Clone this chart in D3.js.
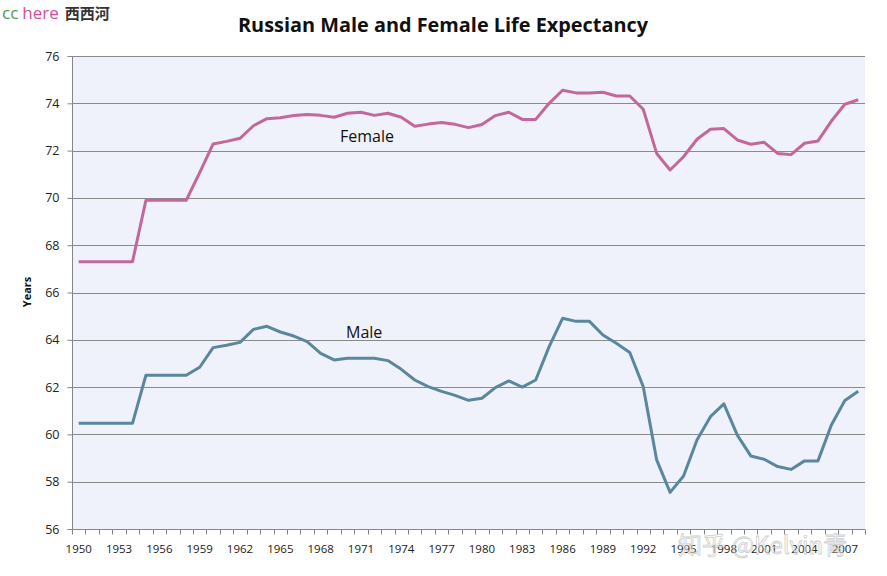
<!DOCTYPE html>
<html><head><meta charset="utf-8">
<script src="https://cdn.jsdelivr.net/npm/d3@7"></script>
<style>body{margin:0;background:#fff;}svg{display:block;}</style>
</head><body><svg id="c" width="887" height="576"></svg>
<script>
const years = d3.range(1950, 2009);
const female = [67.3,67.3,67.3,67.3,67.3,69.9,69.9,69.9,69.9,71.07,72.28,72.39,72.52,73.05,73.35,73.39,73.48,73.53,73.49,73.41,
73.58,73.62,73.49,73.58,73.41,73.03,73.12,73.19,73.11,72.97,73.1,73.48,73.62,73.32,73.32,74.0,74.55,74.44,74.44,74.47,
74.31,74.31,73.75,71.88,71.18,71.74,72.48,72.9,72.93,72.45,72.27,72.35,71.88,71.83,72.31,72.41,73.25,73.96,74.15];
const male = [60.47,60.47,60.47,60.47,60.47,62.5,62.5,62.5,62.5,62.84,63.67,63.77,63.89,64.44,64.57,64.33,64.16,63.92,63.43,63.15,
63.22,63.22,63.22,63.12,62.75,62.3,62.02,61.82,61.65,61.44,61.53,61.98,62.26,62.0,62.3,63.71,64.91,64.78,64.78,64.2,
63.85,63.46,62.02,58.92,57.55,58.24,59.76,60.75,61.29,59.97,59.09,58.95,58.64,58.52,58.88,58.88,60.4,61.43,61.82];
const yTicks = [56,58,60,62,64,66,68,70,72,74,76];
const xLabelYears = d3.range(1950, 2009, 3);
const title = "Russian Male and Female Life Expectancy";
const yTitle = "Years";
const seriesLabels = ["Female", "Male"];

const svg = d3.select("#c");
const L = 72, R = 865, T = 56, B = 529;
const x = d3.scaleBand().domain(years).range([L, R]);
const y = d3.scaleLinear().domain([56, 76]).range([B, T]);

svg.append("rect").attr("x", L).attr("y", T).attr("width", R - L).attr("height", B - T).attr("fill", "#EFF2FA");

// gridlines
svg.append("g").selectAll("line").data(yTicks.filter(d => d > 56)).join("line")
  .attr("x1", L).attr("x2", R).attr("y1", d => Math.round(y(d)) + 0.5).attr("y2", d => Math.round(y(d)) + 0.5)
  .attr("stroke", "#8a8a8a").attr("stroke-width", 1);

// y axis
const ya = svg.append("g").attr("transform", `translate(${L + 0.5},0)`)
  .call(d3.axisLeft(y).tickValues(yTicks).tickSize(5).tickPadding(8));
ya.select(".domain").attr("stroke", "#868686").attr("d", `M0,${T}V${B}`);
ya.selectAll(".tick line").attr("stroke", "#868686");
ya.selectAll("text").attr("font-family", "Open Sans, sans-serif").attr("font-size", 12.5).attr("fill", "#222");

// x axis
const xa = svg.append("g").attr("transform", `translate(0,${B + 0.5})`);
xa.append("line").attr("x1", L).attr("x2", R).attr("stroke", "#868686");
xa.selectAll("line.t").data(years.concat([2009])).join("line").attr("class", "t")
  .attr("x1", d => Math.round(d === 2009 ? R : x(d)) + 0.5).attr("x2", d => Math.round(d === 2009 ? R : x(d)) + 0.5)
  .attr("y1", 0).attr("y2", 5).attr("stroke", "#868686");
xa.selectAll("text").data(xLabelYears).join("text")
  .attr("x", d => x(d) + x.bandwidth() / 2).attr("y", 23).attr("text-anchor", "middle")
  .attr("font-family", "Open Sans, sans-serif").attr("font-size", 11.5).attr("fill", "#222").text(d => d);

// lines
const line = d3.line().x((d, i) => x(years[i]) + x.bandwidth() / 2).y(d => y(d));
svg.append("path").datum(female).attr("d", line).attr("fill", "none").attr("stroke", "#C4679A").attr("stroke-width", 3).attr("stroke-linejoin", "round");
svg.append("path").datum(male).attr("d", line).attr("fill", "none").attr("stroke", "#5A879E").attr("stroke-width", 3).attr("stroke-linejoin", "round");

// series labels
svg.append("text").attr("x", 340).attr("y", 142).attr("font-family", "Open Sans, sans-serif").attr("font-size", 16).attr("fill", "#111").text(seriesLabels[0]);
svg.append("text").attr("x", 346).attr("y", 338).attr("font-family", "Open Sans, sans-serif").attr("font-size", 16).attr("fill", "#111").text(seriesLabels[1]);

// title
svg.append("text").attr("x", 443).attr("y", 32).attr("text-anchor", "middle")
  .attr("font-family", "Open Sans, sans-serif").attr("font-weight", "bold").attr("font-size", 20)
  .attr("textLength", 410).attr("lengthAdjust", "spacingAndGlyphs").attr("fill", "#111").text(title);

// y title
svg.append("text").attr("transform", "translate(31,292) rotate(-90)").attr("text-anchor", "middle")
  .attr("font-family", "Open Sans, sans-serif").attr("font-weight", "bold").attr("font-size", 11).attr("fill", "#111").text(yTitle);

// watermark top-left
const wm = svg.append("text").attr("x", 2).attr("y", 19).attr("font-family", "Open Sans, sans-serif").attr("font-size", 17);
wm.append("tspan").attr("fill", "#4c9a4c").text("cc");
wm.append("tspan").attr("fill", "#d0509a").attr("dx", 4).text("here");
wm.append("tspan").attr("fill", "#333").attr("dx", 6).attr("font-family", "Noto Sans CJK SC").attr("font-weight", "bold").attr("font-size", 15).text("西西河");

// watermark bottom-right
svg.append("text").attr("x", 678).attr("y", 554).attr("font-family", "Noto Sans CJK SC, sans-serif").attr("font-size", 24)
  .attr("fill", "#ffffff").attr("fill-opacity", 0.55).attr("stroke", "#999").attr("stroke-opacity", 0.5).attr("stroke-width", 0.8)
  .text("知乎 @Kelvin青");
</script></body></html>
